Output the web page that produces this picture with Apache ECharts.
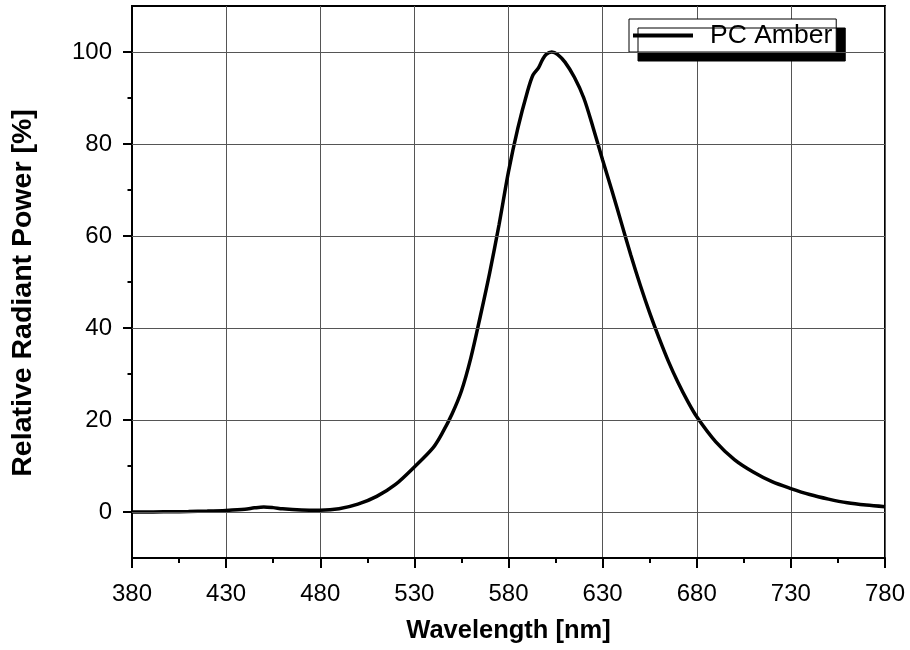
<!DOCTYPE html>
<html>
<head>
<meta charset="utf-8">
<script src="https://cdn.jsdelivr.net/npm/echarts@6/dist/echarts.min.js"></script>
<style>html,body{margin:0;padding:0;background:#fff;}#c{width:910px;height:650px;}</style>
</head>
<body>
<div id="c"></div>
<script>
const wavelengths = [380,390,400,410,420,430,440,445,450,455,460,470,480,490,500,510,520,530,540,545,550,555,560,565,570,575,580,585,590,593,596,598,600,603,606,610,615,620,625,630,635,640,645,650,655,660,665,670,675,680,690,700,710,720,730,740,750,760,770,780];
const power = [0.0,0.0,0.05,0.1,0.2,0.35,0.6,0.9,1.1,0.95,0.7,0.45,0.4,0.7,1.7,3.4,6.0,9.8,14.0,17.3,21.3,26.3,33.5,42.5,52.0,62.5,74.0,83.5,91.3,95.0,96.6,98.3,99.5,100,99.5,97.8,94.5,90.0,83.5,76.5,69.8,62.8,55.8,49.3,43.3,37.8,32.7,28.2,24.2,20.7,15.3,11.4,8.7,6.6,5.1,3.8,2.8,2.0,1.5,1.15];
const seriesName = 'PC Amber';
const yMajorTicks = [0,20,40,60,80,100];
const yMinorTicks = [10,30,50,70,90];
const xAxisTitle = 'Wavelength [nm]';
const yAxisTitle = 'Relative Radiant Power [%]';

const FONT = '"Liberation Sans", Arial, Helvetica, sans-serif';
const chart = echarts.init(document.getElementById('c'), null, {renderer: 'canvas'});
chart.setOption({
  animation: false,
  backgroundColor: '#fff',
  textStyle: {fontFamily: FONT},
  grid: {left: 132, right: 25, top: 6, bottom: 92, show: true, borderColor: '#000', borderWidth: 2, backgroundColor: 'transparent'},
  legend: {
    data: [seriesName], left: 629, top: 19, selectedMode: false,
    icon: 'rect', itemWidth: 60, itemHeight: 4, itemGap: 0,
    padding: [3, 4, 3, 4],
    backgroundColor: '#fff', borderColor: '#000', borderWidth: 1, borderRadius: 0,
    shadowColor: '#000', shadowBlur: 0, shadowOffsetX: 9, shadowOffsetY: 9,
    textStyle: {fontSize: 26.5, color: '#000', fontFamily: FONT, padding: [0, 0, 0, 12]}
  },
  xAxis: {
    type: 'value', min: 380, max: 780, interval: 50,
    axisLine: {onZero: false, lineStyle: {color: '#000', width: 2}},
    axisTick: {length: 10, lineStyle: {color: '#000', width: 2}},
    minorTick: {show: true, splitNumber: 2, length: 5, lineStyle: {color: '#000', width: 2}},
    axisLabel: {fontSize: 24, color: '#000', margin: 24, fontFamily: FONT},
    splitLine: {show: true, lineStyle: {color: '#555', width: 1}},
    name: xAxisTitle, nameLocation: 'middle', nameGap: 60,
    nameTextStyle: {fontSize: 25.5, fontWeight: 'bold', color: '#000', fontFamily: FONT}
  },
  yAxis: [{
    type: 'value', min: -10, max: 110, position: 'left',
    axisLine: {show: true, onZero: false, lineStyle: {color: '#000', width: 2}},
    axisTick: {show: true, customValues: yMajorTicks, length: 9, lineStyle: {color: '#000', width: 2}},
    axisLabel: {customValues: yMajorTicks, fontSize: 24, color: '#000', margin: 20, fontFamily: FONT},
    splitLine: {show: false},
    name: yAxisTitle, nameLocation: 'middle', nameGap: 94, nameRotate: 90,
    nameTextStyle: {fontSize: 28.5, fontWeight: 'bold', color: '#000', fontFamily: FONT, padding: [0, 22, 0, 0]}
  }, {
    type: 'value', min: -10, max: 110, position: 'left',
    axisLine: {show: false, onZero: false},
    axisTick: {show: true, customValues: yMinorTicks, length: 4.5, lineStyle: {color: '#000', width: 2}},
    axisLabel: {show: false},
    splitLine: {show: false}
  }],
  series: [{
    name: 'grid', type: 'line', data: [], silent: true, z: 1,
    markLine: {
      silent: true, symbol: ['none', 'none'], animation: false,
      label: {show: false},
      lineStyle: {color: '#555', width: 1, type: 'solid'},
      emphasis: {disabled: true},
      data: yMajorTicks.map(v => ({yAxis: v}))
    }
  }, {
    name: seriesName, type: 'line', z: 3,
    data: wavelengths.map((w, i) => [w, power[i]]),
    symbol: 'none', smooth: 0.3,
    lineStyle: {color: '#000', width: 3.5},
    itemStyle: {color: '#000'}
  }]
});
</script>
</body>
</html>
